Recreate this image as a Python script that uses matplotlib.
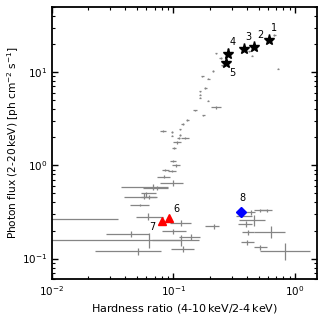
import numpy as np
import matplotlib
matplotlib.use('Agg')
import matplotlib.pyplot as plt

plt.rcParams.update({'font.size': 7.5})

# grey points: centre, x range, y range
hr = [0.675, 0.282, 0.42, 0.44, 0.225, 0.244, 0.25, 0.718, 0.211, 0.194,
      0.173, 0.183, 0.164, 0.164, 0.166, 0.192, 0.222, 0.151, 0.176, 0.130,
      0.119, 0.113, 0.0826, 0.0973, 0.113, 0.0973, 0.110, 0.125, 0.107, 0.101,
      0.0985, 0.105, 0.0858, 0.0973, 0.0841, 0.0985, 0.0676, 0.0733, 0.0597, 0.057,
      0.0635, 0.0526, 0.0615, 0.009, 0.115, 0.215, 0.100, 0.045, 0.139, 0.0635,
      0.115, 0.120, 0.0509, 0.43, 0.518, 0.586, 0.457, 0.365, 0.391, 0.41,
      0.637, 0.403, 0.518, 0.818]
hr_lo = [0.66, 0.277, 0.41, 0.43, 0.22, 0.238, 0.245, 0.705, 0.206, 0.19,
         0.169, 0.179, 0.161, 0.161, 0.163, 0.188, 0.202, 0.146, 0.17, 0.127,
         0.116, 0.11, 0.078, 0.095, 0.11, 0.095, 0.106, 0.115, 0.1, 0.097,
         0.093, 0.097, 0.08, 0.09, 0.0734, 0.078, 0.0368, 0.0557, 0.0536, 0.0392,
         0.0536, 0.0436, 0.0494, 0.002, 0.0937, 0.182, 0.0806, 0.0281, 0.112, 0.004,
         0.0672, 0.0955, 0.0226, 0.391, 0.457, 0.518, 0.344, 0.324, 0.34, 0.366,
         0.457, 0.356, 0.457, 0.518]
hr_hi = [0.69, 0.287, 0.43, 0.45, 0.23, 0.25, 0.255, 0.73, 0.216, 0.198,
         0.177, 0.187, 0.167, 0.167, 0.169, 0.196, 0.244, 0.156, 0.182, 0.133,
         0.122, 0.116, 0.087, 0.1, 0.116, 0.1, 0.114, 0.135, 0.115, 0.105,
         0.104, 0.113, 0.092, 0.105, 0.0942, 0.119, 0.0896, 0.0896, 0.0719, 0.0734,
         0.0725, 0.0627, 0.0815, 0.035, 0.139, 0.237, 0.126, 0.0627, 0.165, 0.115,
         0.163, 0.148, 0.079, 0.472, 0.588, 0.644, 0.569, 0.443, 0.443, 0.457,
         0.83, 0.457, 0.588, 1.33]
flux = [25.1, 17.7, 16.6, 15.0, 15.8, 14.1, 11.8, 10.9, 10.3, 8.49,
        8.97, 6.74, 6.2, 5.72, 5.31, 4.93, 4.18, 3.88, 3.43, 3.08,
        2.77, 2.43, 2.33, 2.28, 2.10, 2.08, 1.98, 1.98, 1.76, 1.55,
        1.11, 1.0, 0.89, 0.877, 0.755, 0.652, 0.581, 0.572, 0.50, 0.461,
        0.461, 0.378, 0.282, 0.268, 0.241, 0.222, 0.196, 0.182, 0.171, 0.157,
        0.157, 0.128, 0.120, 0.313, 0.329, 0.329, 0.262, 0.288, 0.235, 0.193,
        0.193, 0.149, 0.132, 0.120]
flux_lo = [24.6, 17.4, 16.3, 14.7, 15.5, 13.8, 11.6, 10.7, 10.1, 8.35,
           8.8, 6.6, 6.1, 5.62, 5.21, 4.83, 4.05, 3.8, 3.36, 3.02,
           2.71, 2.38, 2.29, 2.24, 2.06, 2.04, 1.93, 1.93, 1.71, 1.51,
           1.08, 0.97, 0.865, 0.85, 0.73, 0.605, 0.545, 0.545, 0.461, 0.436,
           0.44, 0.37, 0.262, 0.265, 0.222, 0.209, 0.185, 0.169, 0.160, 0.130,
           0.135, 0.118, 0.110, 0.296, 0.316, 0.316, 0.222, 0.28, 0.219, 0.180,
           0.167, 0.139, 0.125, 0.096]
flux_hi = [25.6, 18.0, 16.9, 15.3, 16.1, 14.4, 12.0, 11.1, 10.5, 8.65,
           9.15, 6.9, 6.3, 5.82, 5.41, 5.03, 4.31, 3.96, 3.5, 3.14,
           2.83, 2.48, 2.37, 2.32, 2.14, 2.12, 2.03, 2.03, 1.81, 1.59,
           1.14, 1.03, 0.915, 0.90, 0.78, 0.697, 0.631, 0.60, 0.522, 0.50,
           0.48, 0.386, 0.308, 0.271, 0.262, 0.236, 0.208, 0.196, 0.184, 0.188,
           0.181, 0.135, 0.130, 0.335, 0.343, 0.343, 0.296, 0.296, 0.251, 0.204,
           0.226, 0.157, 0.139, 0.147]

# highlighted observations
star_hr = [0.614, 0.462, 0.378, 0.281, 0.272]
star_flux = [21.8, 18.4, 17.6, 15.6, 12.6]
star_lab = ['1', '2', '3', '4', '5']
tri_hr = [0.0914, 0.0805]
tri_flux = [0.273, 0.251]
tri_lab = ['6', '7']
dia_hr = [0.360]
dia_flux = [0.319]
dia_lab = ['8']

hr = np.array(hr); flux = np.array(flux)
xerr = [hr - np.array(hr_lo), np.array(hr_hi) - hr]
yerr = [flux - np.array(flux_lo), np.array(flux_hi) - flux]

fig = plt.figure(figsize=(3.24, 3.24), dpi=100)
ax = fig.add_axes([0.16, 0.138, 0.817, 0.841])

ax.errorbar(hr, flux, xerr=xerr, yerr=yerr, fmt='none', ecolor='#858585',
            elinewidth=0.9, capsize=0, zorder=2)
ax.plot(star_hr, star_flux, '*', color='k', ms=8, zorder=3)
ax.plot(tri_hr, tri_flux, '^', color='red', ms=6, zorder=3)
ax.plot(dia_hr, dia_flux, 'D', color='blue', ms=5.5, zorder=3)

#labels next to markers
offs = {'1': (1, 5), '2': (2, 5), '3': (1, 5), '4': (1, 5), '5': (2, -11),
        '6': (3, 3), '7': (-9, -8), '8': (-1, 6)}
for xs, ys, ls in [(star_hr, star_flux, star_lab), (tri_hr, tri_flux, tri_lab),
                   (dia_hr, dia_flux, dia_lab)]:
    for xv, yv, lab in zip(xs, ys, ls):
        ax.annotate(lab, (xv, yv), xytext=offs[lab], textcoords='offset points',
                    fontsize=7, ha='left', va='bottom')

ax.set_xscale('log')
ax.set_yscale('log')
ax.set_xlim(0.01, 1.5)
ax.set_ylim(0.06, 50)
ax.tick_params(which='both', direction='in', top=True, right=True)
ax.tick_params(which='major', length=4, width=1)
ax.tick_params(which='minor', length=2, width=0.8)
for s in ax.spines.values():
    s.set_linewidth(1.3)

ax.set_xlabel(r'Hardness ratio (4-10$\,$keV/2-4$\,$keV)', fontsize=8, labelpad=3)
ax.set_ylabel(r'Photon flux (2-20$\,$keV) [ph cm$^{-2}$ s$^{-1}$]', fontsize=7.6,
              labelpad=0.5)

plt.savefig('out.png', dpi=100)
